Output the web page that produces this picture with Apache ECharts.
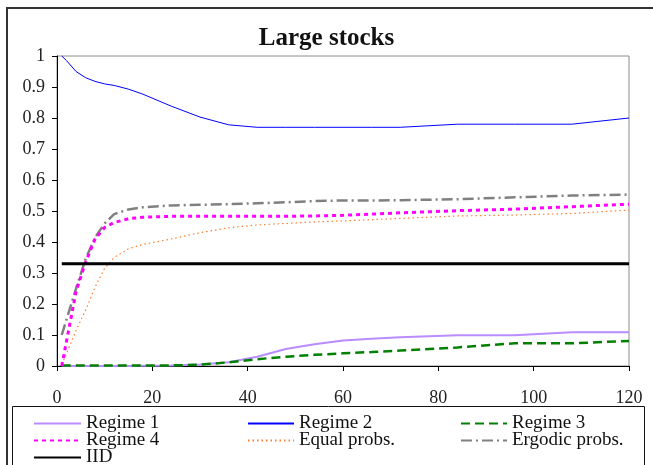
<!DOCTYPE html>
<html>
<head>
<meta charset="utf-8">
<script src="https://cdn.jsdelivr.net/npm/echarts@6/dist/echarts.min.js"></script>
<style>
html,body{margin:0;padding:0;background:#fff;}
#chart{width:653px;height:465px;}
</style>
</head>
<body>
<div id="chart"></div>
<script>
var horizons = [1,2,4,6,8,10,12,15,18,24,30,36,42,48,54,60,66,72,84,96,108,120];
var regime1 = [0,0,0,0,0,0,0,0,0.001,0.002,0.005,0.012,0.03,0.055,0.07,0.082,0.088,0.093,0.099,0.099,0.109,0.109];
var regime2 = [1.0,0.985,0.95,0.93,0.918,0.91,0.905,0.893,0.877,0.838,0.803,0.778,0.77,0.77,0.77,0.77,0.77,0.77,0.78,0.78,0.78,0.80];
var regime3 = [0.002,0.002,0.002,0.002,0.002,0.002,0.002,0.002,0.002,0.002,0.004,0.012,0.022,0.03,0.036,0.041,0.045,0.05,0.06,0.073,0.073,0.081];
var regime4 = [0.0,0.08,0.24,0.335,0.41,0.447,0.463,0.475,0.48,0.483,0.483,0.483,0.483,0.483,0.484,0.486,0.49,0.494,0.501,0.506,0.514,0.522];
var equalProbs = [0.005,0.04,0.115,0.18,0.255,0.315,0.35,0.378,0.392,0.41,0.43,0.446,0.455,0.46,0.465,0.468,0.472,0.476,0.484,0.487,0.492,0.503];
var ergodicProbs = [0.10,0.15,0.25,0.345,0.415,0.46,0.49,0.505,0.512,0.518,0.52,0.522,0.525,0.528,0.532,0.534,0.534,0.535,0.538,0.544,0.55,0.553];
var iid = [0.33,0.33,0.33,0.33,0.33,0.33,0.33,0.33,0.33,0.33,0.33,0.33,0.33,0.33,0.33,0.33,0.33,0.33,0.33,0.33,0.33,0.33];
var xTicks = [0,20,40,60,80,100,120];

function pairs(vals){ return horizons.map(function(h,i){ return [h, vals[i]]; }); }
var FONT = 'Liberation Serif';

function mk(name, vals, color, width, type, z){
  return {name:name, type:'line', data:pairs(vals), symbol:'none', showSymbol:false,
    lineStyle:{color:color, width:width, type:type}, itemStyle:{color:color}, z:z||2, animation:false};
}

var chart = echarts.init(document.getElementById('chart'), null, {renderer:'canvas'});
var legendText = {fontFamily:FONT, fontSize:19, color:'#111', lineHeight:17};
function leg(names, left, w){
  return {data:names.map(function(n){ return {name:n, itemStyle:{opacity:0}}; }),
    orient:'vertical', left:left, top:414, height:80, itemWidth:w, itemHeight:14, itemGap:-2, padding:0,
    textStyle:legendText, itemStyle:{opacity:0}};
}
chart.setOption({
  backgroundColor:'#fff',
  animation:false,
  title:{text:'Large stocks', left:'center', top:21, textStyle:{fontFamily:FONT, fontSize:25, fontWeight:'bold', color:'#111'}},
  grid:{left:57, right:24, top:56, bottom:99, show:true, borderColor:'#8c8c8c', borderWidth:1, backgroundColor:'#fff'},
  xAxis:{type:'value', min:0, max:120, interval:20,
    axisLine:{lineStyle:{color:'#000', width:1}}, axisTick:{length:5, inside:false, lineStyle:{color:'#000'}},
    axisLabel:{margin:23, fontFamily:FONT, fontSize:18, color:'#222', formatter:function(v){ return xTicks.indexOf(v)>=0 ? String(v) : ''; }},
    splitLine:{show:false}},
  yAxis:{type:'value', min:0, max:1, interval:0.1,
    axisLine:{show:true, lineStyle:{color:'#000', width:1}}, axisTick:{show:true, length:5, lineStyle:{color:'#000'}},
    axisLabel:{margin:12, fontFamily:FONT, fontSize:18, color:'#222', formatter:function(v){ return String(+v.toFixed(1)); }},
    splitLine:{show:false}},
  legend:[
    leg(['Regime 1','Regime 4','IID'], 33, 47),
    leg(['Regime 2','Equal probs.'], 247, 46),
    leg(['Regime 3','Ergodic probs.'], 460, 46)
  ],
  graphic:[
    {type:'rect', shape:{x:7, y:8, width:700, height:500}, style:{fill:null, stroke:'#333', lineWidth:2}, silent:true, z:-1},
    {type:'rect', shape:{x:12.5, y:406.5, width:632, height:100}, style:{fill:null, stroke:'#111', lineWidth:1}, silent:true}
  ],
  series:[
    mk('Regime 1', regime1, '#b98cff', 2, 'solid', 3),
    mk('Regime 2', regime2, '#0000ff', 1, 'solid', 3),
    mk('Regime 3', regime3, '#008000', 2.5, [9,5], 4),
    mk('Regime 4', regime4, '#ff00ff', 3, [4,4], 4),
    mk('Equal probs.', equalProbs, '#ff7f30', 1.2, [1.5,3], 3),
    mk('Ergodic probs.', ergodicProbs, '#808080', 2.5, [11,4,2,4], 3),
    mk('IID', iid, '#000000', 3, 'solid', 5)
  ]
});
</script>
</body>
</html>
